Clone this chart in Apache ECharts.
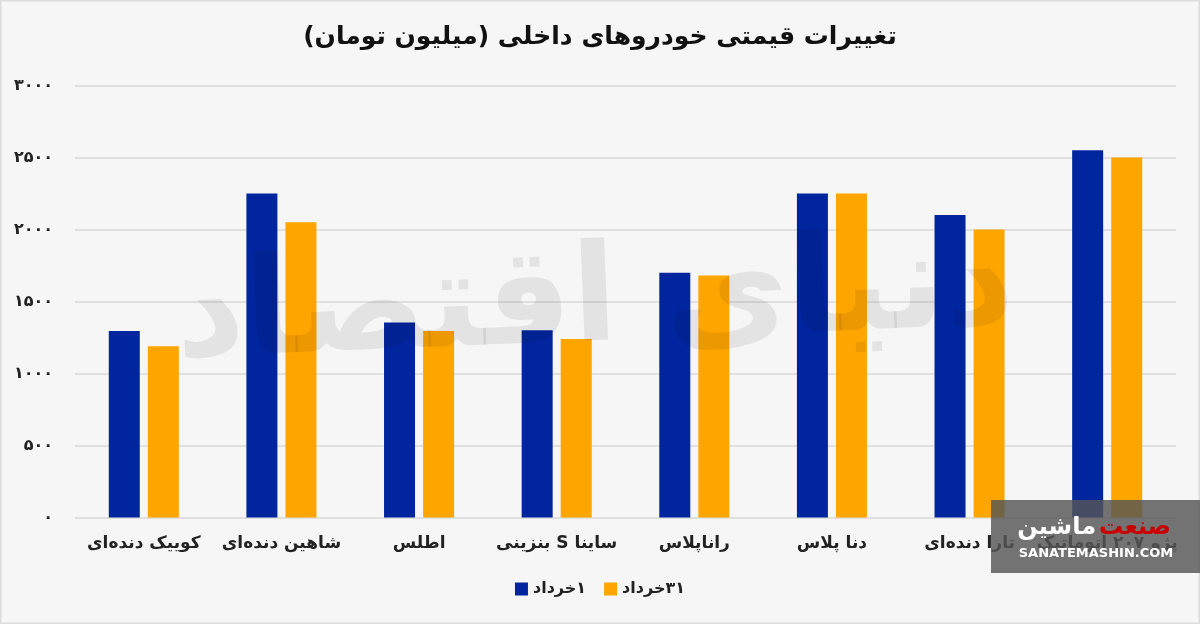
<!DOCTYPE html>
<html>
<head>
<meta charset="utf-8">
<script src="https://cdn.jsdelivr.net/npm/echarts@6/dist/echarts.min.js"></script>
<style>
html,body{margin:0;padding:0;background:#f6f6f6;}
#chart{width:1200px;height:624px;direction:rtl;}
</style>
</head>
<body>
<div id="chart"></div>
<script>
const categories = ['کوییک دنده‌ای','شاهین دنده‌ای','اطلس','ساینا S بنزینی','راناپلاس','دنا پلاس','تارا دنده‌ای','پژو ۲۰۷ اتوماتیک'];
const seriesNames = ['۱خرداد','۳۱خرداد'];
const khordad1 = [1295, 2250, 1355, 1300, 1700, 2250, 2100, 2550];
const khordad31 = [1190, 2050, 1295, 1240, 1680, 2250, 2000, 2500];
const yTickLabels = ['۰','۵۰۰','۱۰۰۰','۱۵۰۰','۲۰۰۰','۲۵۰۰','۳۰۰۰'];
const titleText = 'تغییرات قیمتی خودروهای داخلی (میلیون تومان)';

const FONT = '"DejaVu Sans", sans-serif';
const chart = echarts.init(document.getElementById('chart'));
chart.setOption({
  backgroundColor: '#f6f6f6',
  animation: false,
  title: {
    text: titleText, left: 'center', top: 20,
    textStyle: {fontFamily: FONT, fontSize: 25, fontWeight: 'bold', color: '#111'}
  },
  legend: {
    data: seriesNames, bottom: 22, left: 'center',
    itemWidth: 13, itemHeight: 13, itemGap: 18, icon: 'rect',
    textStyle: {fontFamily: FONT, fontSize: 16, fontWeight: 'bold', color: '#222'}
  },
  grid: {left: 75, right: 24, top: 85.5, bottom: 106.5},
  xAxis: {
    type: 'category', data: categories,
    axisLine: {show: false}, axisTick: {show: false},
    axisLabel: {interval: 0, margin: 18, fontFamily: FONT, fontSize: 17, fontWeight: 'bold', color: '#222'}
  },
  yAxis: {
    type: 'value', min: 0, max: 3000, interval: 500,
    axisLine: {show: false}, axisTick: {show: false},
    splitLine: {lineStyle: {color: '#d9d9d9', width: 1.5}},
    axisLabel: {margin: 22, fontFamily: FONT, fontSize: 16, fontWeight: 'bold', color: '#222',
      formatter: function(v){ return yTickLabels[Math.round(v/500)]; }}
  },
  series: [
    {name: seriesNames[0], type: 'bar', data: khordad1, barWidth: 31, barGap: '26%', itemStyle: {color: '#00259e'}},
    {name: seriesNames[1], type: 'bar', data: khordad31, barWidth: 31, barGap: '26%', itemStyle: {color: '#ffa500'}}
  ],
  graphic: [
    {type: 'rect', z: 0, silent: true, shape: {x: 0, y: 0, width: 1200, height: 624},
      style: {fill: 'none', stroke: '#dcdcdc', lineWidth: 3}},
    {type: 'text', z: 100, silent: true, x: 595, y: 305, rotation: 0.04,
      style: {text: 'دنیای اقتصاد', fontFamily: FONT, fontWeight: 'bold', fontSize: 135,
        fill: 'rgba(0,0,0,0.075)', align: 'center', verticalAlign: 'middle'}},
    {type: 'rect', z: 110, silent: true, shape: {x: 991, y: 500, width: 209, height: 73},
      style: {fill: 'rgba(85,85,85,0.82)'}},
    {type: 'text', z: 111, silent: true, x: 1099, y: 528,
      style: {text: 'صنعت', fontFamily: FONT, fontWeight: 'bold', fontSize: 24, fill: '#c80000', align: 'left', verticalAlign: 'middle'}},
    {type: 'text', z: 111, silent: true, x: 1096, y: 528,
      style: {text: 'ماشین', fontFamily: FONT, fontWeight: 'bold', fontSize: 24, fill: '#ffffff', align: 'right', verticalAlign: 'middle'}},
    {type: 'text', z: 111, silent: true, x: 1096, y: 554,
      style: {text: 'SANATEMASHIN.COM', fontFamily: FONT, fontWeight: 'bold', fontSize: 13, fill: '#ffffff', align: 'center', verticalAlign: 'middle'}}
  ]
});
</script>
</body>
</html>
